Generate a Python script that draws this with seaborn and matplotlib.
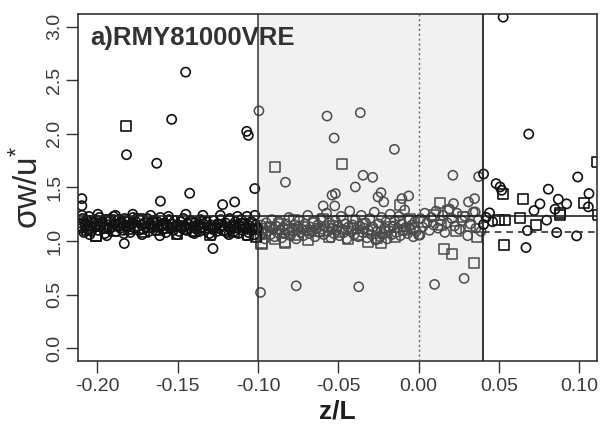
import numpy as np
import pandas as pd
import matplotlib
matplotlib.use("Agg")
import matplotlib.pyplot as plt
import seaborn as sns

# ---------------- data ----------------
# dense band, z/L < -0.10 (circles)
left_circ_x = [-0.2105,-0.2098,-0.2091,-0.2083,-0.2076,-0.2068,-0.2059,-0.2052,-0.2044,-0.2037,-0.2029,-0.2018,
               -0.2011,-0.2003,-0.1994,-0.1987,-0.1979,-0.1968,-0.1960,-0.1953,-0.1945,-0.1936,-0.1927,-0.1919,
               -0.1908,-0.1899,-0.1891,-0.1884,-0.1875,-0.1866,-0.1857,-0.1849,-0.1838,-0.1830,-0.1822,-0.1811,
               -0.1803,-0.1794,-0.1786,-0.1777,-0.1768,-0.1759,-0.1750,-0.1741,-0.1733,-0.1724,-0.1715,-0.1706,
               -0.1697,-0.1688,-0.1679,-0.1671,-0.1662,-0.1653,-0.1644,-0.1635,-0.1626,-0.1617,-0.1608,-0.1599,
               -0.1590,-0.1581,-0.1572,-0.1563,-0.1554,-0.1545,-0.1536,-0.1527,-0.1518,-0.1509,-0.1500,-0.1491,
               -0.1482,-0.1473,-0.1464,-0.1455,-0.1446,-0.1437,-0.1428,-0.1419,-0.1410,-0.1401,-0.1392,-0.1383,
               -0.1374,-0.1365,-0.1356,-0.1347,-0.1338,-0.1329,-0.1320,-0.1311,-0.1302,-0.1293,-0.1284,-0.1275,
               -0.1266,-0.1257,-0.1248,-0.1239,-0.1230,-0.1221,-0.1212,-0.1203,-0.1194,-0.1185,-0.1176,-0.1167,
               -0.1158,-0.1149,-0.1140,-0.1131,-0.1122,-0.1113,-0.1104,-0.1095,-0.1086,-0.1077,-0.1068,-0.1059,
               -0.1050,-0.1041,-0.1032,-0.1023,-0.1014,-0.1005,
               -0.2094,-0.2047,-0.1996,-0.1941,-0.1887,-0.1834,-0.1779,-0.1722,-0.1668,-0.1611,-0.1557,-0.1503,
               -0.1449,-0.1396,-0.1343,-0.1288,-0.1234,-0.1181,-0.1127,-0.1072,-0.1019]
left_circ_y = [1.17,1.12,1.21,1.08,1.15,1.19,1.11,1.23,1.14,1.09,1.18,1.13,
               1.20,1.16,1.10,1.22,1.14,1.18,1.12,1.07,1.20,1.15,1.11,1.19,
               1.13,1.23,1.16,1.09,1.14,1.20,1.12,1.17,1.10,1.21,1.15,1.13,
               1.19,1.08,1.16,1.22,1.12,1.18,1.14,1.10,1.20,1.15,1.11,1.17,
               1.13,1.21,1.09,1.16,1.12,1.19,1.14,1.10,1.18,1.13,1.22,1.15,
               1.11,1.17,1.08,1.14,1.20,1.12,1.16,1.10,1.19,1.13,1.15,1.09,
               1.18,1.12,1.21,1.14,1.10,1.16,1.12,1.19,1.08,1.14,1.17,1.11,
               1.15,1.09,1.20,1.13,1.16,1.10,1.18,1.12,1.07,1.15,1.11,1.19,
               1.13,1.09,1.16,1.12,1.20,1.14,1.10,1.17,1.08,1.13,1.21,1.11,
               1.15,1.09,1.18,1.12,1.07,1.14,1.20,1.10,1.16,1.12,1.23,1.08,
               1.14,1.18,1.11,1.06,1.15,1.12,
               1.24,1.06,1.25,1.05,1.24,1.07,1.25,1.06,1.24,1.05,1.23,1.06,
               1.25,1.07,1.24,1.05,1.24,1.06,1.23,1.05,1.24]
# dense band, z/L < -0.10 (squares)
left_sq_x = [-0.2088,-0.2062,-0.2031,-0.2009,-0.1982,-0.1949,-0.1921,-0.1893,-0.1862,-0.1833,-0.1801,-0.1772,
             -0.1740,-0.1712,-0.1683,-0.1655,-0.1621,-0.1594,-0.1566,-0.1533,-0.1506,-0.1478,-0.1449,-0.1417,
             -0.1389,-0.1358,-0.1327,-0.1298,-0.1268,-0.1239,-0.1207,-0.1178,-0.1151,-0.1119,-0.1090,-0.1061,
             -0.1035,-0.1012]
left_sq_y = [1.14,1.10,1.19,1.05,1.16,1.12,1.20,1.09,1.15,1.18,1.11,1.14,
             1.21,1.08,1.13,1.17,1.10,1.15,1.12,1.19,1.07,1.14,1.11,1.17,
             1.09,1.13,1.18,1.06,1.12,1.15,1.10,1.19,1.08,1.13,1.16,1.06,
             1.11,1.04]
# dense band, -0.10 <= z/L <= 0.04 (circles)
mid_circ_x = [-0.0995,-0.0988,-0.0981,-0.0972,-0.0965,-0.0957,-0.0949,-0.0940,-0.0931,-0.0922,-0.0914,-0.0905,
              -0.0896,-0.0888,-0.0879,-0.0870,-0.0861,-0.0852,-0.0843,-0.0834,-0.0825,-0.0816,-0.0807,-0.0798,
              -0.0789,-0.0780,-0.0771,-0.0762,-0.0753,-0.0744,-0.0735,-0.0726,-0.0717,-0.0708,-0.0699,-0.0690,
              -0.0681,-0.0672,-0.0663,-0.0654,-0.0645,-0.0636,-0.0627,-0.0618,-0.0609,-0.0600,-0.0591,-0.0582,
              -0.0573,-0.0564,-0.0555,-0.0546,-0.0537,-0.0528,-0.0519,-0.0510,-0.0501,-0.0492,-0.0483,-0.0474,
              -0.0465,-0.0456,-0.0447,-0.0438,-0.0429,-0.0420,-0.0411,-0.0402,-0.0393,-0.0384,-0.0375,-0.0366,
              -0.0357,-0.0348,-0.0339,-0.0330,-0.0321,-0.0312,-0.0303,-0.0294,-0.0285,-0.0276,-0.0267,-0.0258,
              -0.0249,-0.0240,-0.0231,-0.0222,-0.0213,-0.0204,-0.0195,-0.0186,-0.0177,-0.0168,-0.0159,-0.0150,
              -0.0141,-0.0132,-0.0123,-0.0114,-0.0105,-0.0096,-0.0087,-0.0078,-0.0069,-0.0060,-0.0051,-0.0042,
              -0.0033,-0.0024,-0.0015,
              0.0012,0.0025,0.0038,0.0051,0.0067,0.0079,0.0093,0.0108,0.0121,0.0136,0.0149,0.0163,
              0.0178,0.0192,0.0207,0.0223,0.0239,0.0254,0.0271,0.0288,0.0305,0.0322,0.0340,0.0356,
              0.0372,0.0388]
mid_circ_y = [1.10,1.05,1.15,1.08,1.12,1.02,1.17,1.09,1.13,1.06,1.20,1.11,
              1.04,1.14,1.08,1.18,1.10,1.03,1.13,1.07,1.16,1.11,1.22,1.05,
              1.12,1.09,1.15,1.02,1.13,1.19,1.08,1.11,1.05,1.16,1.10,1.24,
              1.07,1.13,1.09,1.18,1.04,1.12,1.15,1.08,1.21,1.11,1.06,1.14,
              1.26,1.09,1.17,1.03,1.12,1.07,1.19,1.10,1.14,1.05,1.23,1.11,
              1.08,1.16,1.02,1.13,1.28,1.09,1.15,1.06,1.20,1.11,1.04,1.14,
              1.24,1.08,1.12,1.17,1.03,1.10,1.21,1.06,1.13,1.27,1.01,1.09,
              1.16,1.04,1.22,1.07,1.12,1.18,1.02,1.10,1.25,1.06,1.14,1.19,
              1.08,1.12,1.23,1.05,1.16,1.10,1.29,1.13,1.07,1.20,1.11,1.15,
              1.04,1.18,1.09,
              1.21,1.13,1.26,1.17,1.10,1.22,1.15,1.28,1.12,1.19,1.24,1.08,
              1.17,1.30,1.21,1.14,1.26,1.11,1.19,1.23,1.05,1.16,1.27,1.12,
              1.20,1.09]
# dense band, -0.10 <= z/L <= 0.04 (squares)
mid_sq_x = [-0.0978,-0.0955,-0.0921,-0.0897,-0.0868,-0.0832,-0.0805,-0.0774,-0.0748,-0.0712,-0.0686,-0.0651,
            -0.0622,-0.0595,-0.0560,-0.0532,-0.0497,-0.0468,-0.0441,-0.0410,-0.0377,-0.0349,-0.0318,-0.0290,
            -0.0262,-0.0235,-0.0207,-0.0178,-0.0150,-0.0118,-0.0088,-0.0055,-0.0027,0.0035,0.0098,0.0142,
            0.0185,0.0232,0.0275,0.0318,0.0362]
mid_sq_y = [0.98,1.07,1.13,1.02,1.16,0.99,1.10,1.20,1.06,1.13,1.01,1.17,
            1.09,1.21,1.04,1.14,1.08,1.19,1.02,1.12,1.06,1.16,0.99,1.10,
            1.03,0.98,1.08,1.13,1.04,1.18,1.10,1.21,1.12,1.18,1.24,1.15,
            1.28,1.09,1.22,1.14,1.04]
# scattered circles
out_circ_x = [-0.1450,-0.1537,-0.1818,-0.1630,-0.1070,-0.1060,-0.0994,-0.1020,-0.1425,-0.1607,-0.1220,-0.1145,
              -0.2096,-0.2096,-0.0829,0.0526,-0.0570,-0.0363,-0.0526,-0.0151,0.0685,-0.0346,-0.0286,0.0213,
              0.0373,0.0404,-0.0394,0.0990,0.0482,0.0507,0.0517,0.0807,0.1060,0.0869,0.0921,0.0755,
              0.1056,0.0718,0.0849,-0.0234,-0.0253,-0.0217,-0.0062,-0.0104,-0.0518,-0.0539,-0.0594,-0.0522,
              0.0217,0.0348,0.0310,0.0352,0.0441,0.0797,0.0404,0.0677,0.0859,0.0983,0.0668,0.0283,
              0.0099,-0.0373,0.0000,-0.1832,-0.1280,-0.0984,-0.0762,0.0008,0.0420,0.0460]
out_circ_y = [2.577,2.136,1.806,1.726,2.024,1.987,2.216,1.490,1.446,1.372,1.340,1.365,
              1.396,1.330,1.549,3.090,2.167,2.198,1.962,1.856,1.999,1.614,1.595,1.614,
              1.601,1.626,1.505,1.598,1.536,1.505,1.474,1.484,1.443,1.390,1.347,1.347,
              1.319,1.284,1.297,1.452,1.412,1.365,1.421,1.396,1.443,1.428,1.328,1.328,
              1.350,1.396,1.365,1.272,1.263,1.195,1.154,1.098,1.079,1.048,0.939,0.651,
              0.595,0.573,1.055,0.977,0.930,0.520,0.582,1.055,1.220,1.180]
# scattered squares
out_sq_x = [-0.1822,-0.0894,-0.0474,0.1107,0.0524,0.0648,0.1031,0.0880,-0.0114,0.0134,0.0497,0.0538,
            0.0631,0.0730,0.0880,0.0532,0.0155,0.0207,0.0345,-0.2009,-0.0978,-0.0832,0.1115]
out_sq_y = [2.074,1.694,1.720,1.738,1.443,1.390,1.356,1.266,1.334,1.353,1.195,1.195,
            1.219,1.148,1.241,0.967,0.921,0.878,0.797,1.048,0.977,0.986,1.240]

x_ticks = [-0.20, -0.15, -0.10, -0.05, 0.00, 0.05, 0.10]
y_ticks = [0.0, 0.5, 1.0, 1.5, 2.0, 2.5, 3.0]
band_lo, band_hi = -0.10, 0.04
ref_solid = 1.235
ref_dashed = 1.08
panel_title = "a)RMY81000VRE"

# ---------------- table ----------------
frames = []
for xs, ys, shp in [(left_circ_x, left_circ_y, "circle"), (left_sq_x, left_sq_y, "square"),
                    (mid_circ_x, mid_circ_y, "circle"), (mid_sq_x, mid_sq_y, "square"),
                    (out_circ_x, out_circ_y, "circle"), (out_sq_x, out_sq_y, "square")]:
    frames.append(pd.DataFrame({"zL": xs, "sw": ys, "shape": shp}))
df = pd.concat(frames, ignore_index=True)
df["region"] = np.where((df["zL"] >= band_lo) & (df["zL"] <= band_hi), "in", "out")

# ---------------- style ----------------
sns.set_theme(style="white")
plt.rcParams["font.family"] = ["Liberation Sans", "DejaVu Sans"]
plt.rcParams["axes.unicode_minus"] = False
plt.rcParams["mathtext.default"] = "regular"

fig = plt.figure(figsize=(6.0, 4.3), dpi=100)
ax = fig.add_axes([0.13, 0.1605, 0.865, 0.807])

ax.axvspan(band_lo, band_hi, color="#f1f1f1", zorder=0, lw=0)

colors = {"in": "#4a4a4a", "out": "#111111"}
widths = {"in": 1.1, "out": 1.2}
markers = {"circle": ("o", 44), "square": ("s", 52)}
for (reg, shp), g in df.groupby(["region", "shape"]):
    m, s = markers[shp]
    sns.scatterplot(data=g, x="zL", y="sw", marker=m, s=s, color=colors[reg], ax=ax,
                    legend=False, zorder=2)
    coll = ax.collections[-1]
    coll.set_facecolor("none")
    coll.set_edgecolor(colors[reg])
    coll.set_linewidth(widths[reg])

ax.axvline(band_lo, color="#333333", lw=1.1, zorder=3)
ax.axvline(band_hi, color="#222222", lw=1.3, zorder=3)
ax.axvline(0.0, color="#666666", lw=1.0, ls=(0, (1.5, 2.0)), zorder=3)
ax.axhline(ref_solid, color="#222222", lw=1.2, zorder=3)
ax.plot([band_hi, 0.112], [ref_dashed, ref_dashed], color="#333333", lw=1.2,
        ls=(0, (4, 3)), zorder=3)

ax.set_xlim(-0.212, 0.111)
ax.set_ylim(-0.12, 3.12)
ax.set_xticks(x_ticks)
ax.set_xticklabels([f"{v:.2f}" for v in x_ticks])
ax.set_yticks(y_ticks)
ax.set_yticklabels([f"{v:.1f}" for v in y_ticks], rotation=90, va="center")

ax.tick_params(axis="both", which="major", length=8.5, width=1.0, color="#333333",
               labelsize=14, labelcolor="#3a3a3a", bottom=True, left=True)
ax.tick_params(axis="x", pad=4)
ax.tick_params(axis="y", pad=2)
for sp in ax.spines.values():
    sp.set_color("#333333")
    sp.set_linewidth(1.2)

ax.set_xlabel("z/L", fontsize=19, fontweight="bold", color="#1e1e1e", labelpad=3)
ax.set_ylabel("σw/u$^{*}$", fontsize=24, color="#2a2a2a", labelpad=1)

ax.text(0.023, 0.911, panel_title, transform=ax.transAxes, fontsize=18.5,
        fontweight="bold", color="#333333", ha="left", va="baseline", zorder=5)

fig.savefig("out.png", dpi=100)
